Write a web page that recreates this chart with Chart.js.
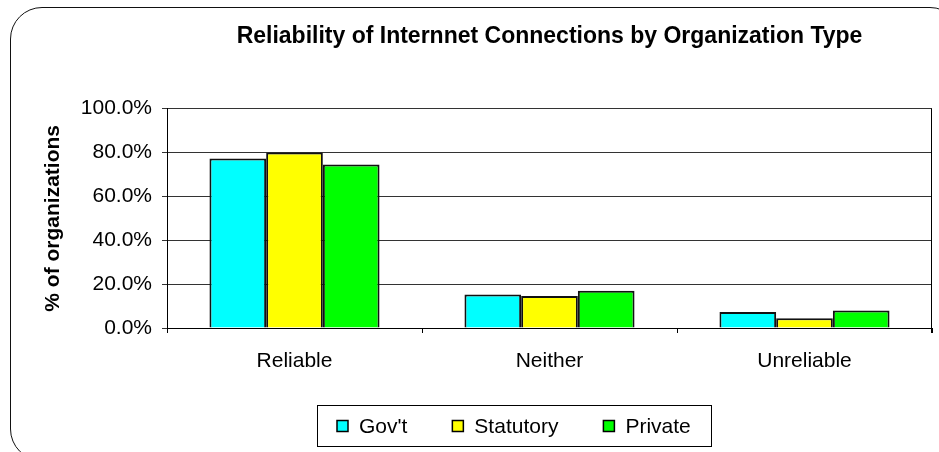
<!DOCTYPE html>
<html>
<head>
<meta charset="utf-8">
<title>Internet reliability</title>
<script src="https://cdn.jsdelivr.net/npm/chart.js@4"></script>
<style>
    html, body { margin: 0; padding: 0; background: #fff; overflow: hidden; }
    #wrap { position: relative; width: 939px; height: 452px; }
    #frame {
        position: absolute; left: 10px; top: 7px; width: 952px; height: 454px;
        border: 1.5px solid #111; border-radius: 32px; box-sizing: border-box;
    }
    #chart { position: absolute; left: 0; top: 0; }
</style>
</head>
<body>
<div id="wrap">
    <div id="frame"></div>
    <canvas id="chart" width="939" height="452"></canvas>
</div>
<script>
const categories = ['Reliable', 'Neither', 'Unreliable'];
const seriesNames = ["Gov't", 'Statutory', 'Private'];
const govtValues = [77.3, 15.3, 7.3];
const statutoryValues = [80.0, 14.6, 4.4];
const privateValues = [74.5, 17.0, 8.0];
const seriesColors = ['#00ffff', '#ffff00', '#00ff00'];
const chartTitle = 'Reliability of Internnet Connections by Organization Type';
const yAxisTitle = '% of organizations';

const FONT = 'Liberation Sans, Arial, Helvetica, sans-serif';

// right-hand edge of the plot box (left edge is the y axis border)
const plotFrame = {
    id: 'plotFrame',
    beforeDatasetsDraw(chart) {
        const { ctx, chartArea } = chart;
        ctx.save();
        ctx.strokeStyle = '#000';
        ctx.lineWidth = 1;
        ctx.beginPath();
        ctx.moveTo(Math.round(chartArea.right) - 0.5, chartArea.top);
        ctx.lineTo(Math.round(chartArea.right) - 0.5, chartArea.bottom + 5);
        ctx.stroke();
        ctx.restore();
    }
};

// legend in a bordered box below the plot
const boxedLegend = {
    id: 'boxedLegend',
    afterDraw(chart) {
        const ctx = chart.ctx;
        const centerX = 514, top = 405, height = 41;
        const pad = 20, swatch = 11, swGap = 11, itemGap = 45;
        ctx.save();
        ctx.font = '21px ' + FONT;
        const items = chart.data.datasets.map(ds => ({
            label: ds.label, color: ds.backgroundColor, w: ctx.measureText(ds.label).width
        }));
        let total = pad * 2 + itemGap * (items.length - 1);
        items.forEach(it => { total += swatch + swGap + it.w; });
        const left = Math.round(centerX - total / 2);
        ctx.strokeStyle = '#000';
        ctx.lineWidth = 1;
        ctx.strokeRect(left + 0.5, top + 0.5, Math.round(total), height);
        const midY = top + height / 2 + 0.5;
        let x = left + pad;
        ctx.textBaseline = 'middle';
        items.forEach(it => {
            ctx.fillStyle = it.color;
            ctx.fillRect(x, midY - swatch / 2, swatch, swatch);
            ctx.strokeStyle = '#000';
            ctx.lineWidth = 1.5;
            ctx.strokeRect(x, midY - swatch / 2, swatch, swatch);
            x += swatch + swGap;
            ctx.fillStyle = '#000';
            ctx.fillText(it.label, x, midY + 1);
            x += it.w + itemGap;
        });
        ctx.restore();
    }
};

const datasets = [govtValues, statutoryValues, privateValues].map((vals, i) => ({
    label: seriesNames[i],
    data: vals,
    backgroundColor: seriesColors[i],
    borderColor: '#111',
    borderWidth: 2,
    categoryPercentage: 0.667,
    barPercentage: 1.0
}));

new Chart(document.getElementById('chart'), {
    type: 'bar',
    data: { labels: categories, datasets: datasets },
    plugins: [plotFrame, boxedLegend],
    options: {
        responsive: false,
        animation: false,
        layout: { padding: { left: 0, right: 7, top: 0, bottom: 0 } },
        plugins: {
            legend: { display: false },
            tooltip: { enabled: false },
            title: {
                display: true,
                text: chartTitle,
                fullSize: false,
                color: '#000',
                font: { family: FONT, size: 23, weight: 'bold' },
                padding: { top: 23, bottom: 58 }
            }
        },
        scales: {
            x: {
                grid: { offset: true, drawOnChartArea: false, tickLength: 5, color: '#000' },
                border: { color: '#000', width: 1 },
                ticks: { color: '#000', padding: 16, font: { family: FONT, size: 21 } },
                afterFit(scale) { scale.height = 124; }
            },
            y: {
                min: 0,
                max: 100,
                grid: { color: '#333', tickLength: 5, lineWidth: 1 },
                border: { color: '#000', width: 1 },
                ticks: {
                    stepSize: 20,
                    color: '#000',
                    padding: 10,
                    font: { family: FONT, size: 21 },
                    callback: v => v.toFixed(1) + '%'
                },
                title: {
                    display: true,
                    text: yAxisTitle,
                    color: '#000',
                    font: { family: FONT, size: 21, weight: 'bold' },
                    padding: { top: 41, bottom: 0 }
                },
                afterFit(scale) { scale.width = 167; }
            }
        }
    }
});
</script>
</body>
</html>
